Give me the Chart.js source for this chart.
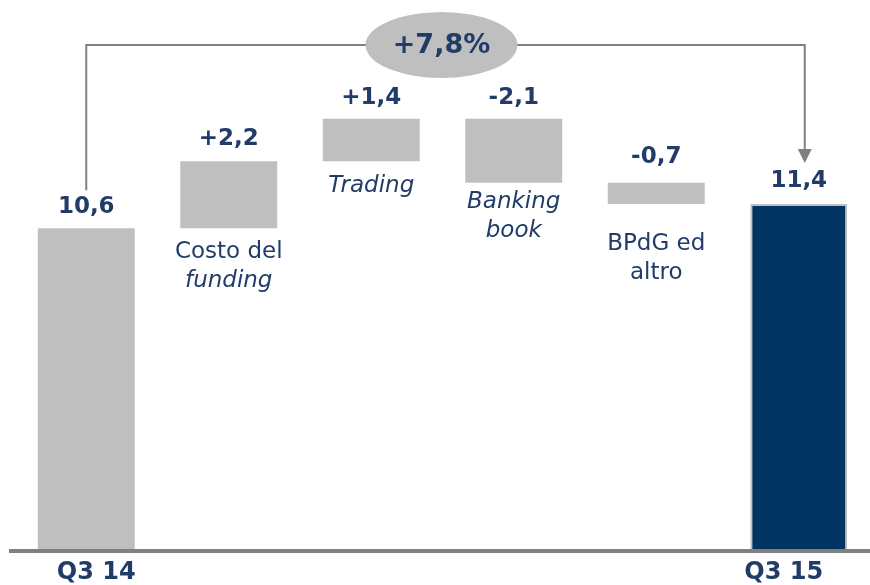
<!DOCTYPE html>
<html>
<head>
<meta charset="utf-8">
<script src="https://cdn.jsdelivr.net/npm/chart.js@4"></script>
<style>
  body { margin: 0; background: #fff; }
  #wrap { width: 870px; height: 585px; }
</style>
</head>
<body>
<div id="wrap"><canvas id="chart" width="870" height="585"></canvas></div>
<script>
// Data
const categories = ['Q3 14', 'Costo del funding', 'Trading', 'Banking book', 'BPdG ed altro', 'Q3 15'];
const labelLines = [[], ['Costo del', 'funding'], ['Trading'], ['Banking', 'book'], ['BPdG ed', 'altro'], []];
const startValue = 10.6;
const deltas = [2.2, 1.4, -2.1, -0.7];
const endValue = 11.4;
const valueLabels = ['10,6', '+2,2', '+1,4', '-2,1', '-0,7', '11,4'];
const growthLabel = '+7,8%';

// build floating bars for the waterfall
const bars = [[0, startValue]];
let running = startValue;
deltas.forEach(d => {
  const next = running + d;
  bars.push([Math.min(running, next), Math.max(running, next)]);
  running = next;
});
bars.push([0, endValue]);

const textColor = '#213c68';
const grey = '#bfbfbf';
const navy = '#003462';
const italicWords = ['funding', 'Trading', 'Banking', 'book'];

const overlay = {
  id: 'overlay',
  afterDatasetsDraw(chart) {
    const ctx = chart.ctx;
    const x = chart.scales.x;
    const y = chart.scales.y;
    ctx.save();

    // baseline
    ctx.strokeStyle = '#808080';
    ctx.lineWidth = 4;
    ctx.beginPath();
    ctx.moveTo(9, y.getPixelForValue(0));
    ctx.lineTo(870, y.getPixelForValue(0));
    ctx.stroke();

    ctx.textAlign = 'center';
    ctx.textBaseline = 'middle';
    ctx.fillStyle = textColor;

    // value labels above bars
    const valueGap = [21, 22, 21, 21, 26, 23];
    bars.forEach((b, i) => {
      ctx.font = 'bold 23px "DejaVu Sans"';
      ctx.fillText(valueLabels[i], x.getPixelForValue(i), y.getPixelForValue(b[1]) - valueGap[i]);
    });

    // category labels under the floating bars
    const labelGap = [0, 24, 25, 19, 40, 0];
    labelLines.forEach((lines, i) => {
      lines.forEach((line, j) => {
        const italic = italicWords.includes(line) ? 'italic ' : '';
        ctx.font = italic + '23px "DejaVu Sans"';
        ctx.fillText(line, x.getPixelForValue(i), y.getPixelForValue(bars[i][0]) + labelGap[i] + j * 29);
      });
    });

    // period labels under the axis
    ctx.font = 'bold 24px "DejaVu Sans"';
    ctx.fillText(categories[0], x.getPixelForValue(0) + 10, 573);
    ctx.fillText(categories[5], x.getPixelForValue(5) - 15, 573);

    // growth bracket
    const lx = x.getPixelForValue(0);
    const rx = x.getPixelForValue(5) + 6;
    const top = 45;
    const tipY = y.getPixelForValue(endValue) - 41;
    ctx.strokeStyle = '#808080';
    ctx.lineWidth = 2;
    ctx.beginPath();
    ctx.moveTo(lx, y.getPixelForValue(startValue) - 38);
    ctx.lineTo(lx, top);
    ctx.lineTo(rx, top);
    ctx.lineTo(rx, tipY - 12);
    ctx.stroke();
    ctx.fillStyle = '#808080';
    ctx.beginPath();
    ctx.moveTo(rx - 7, tipY - 14);
    ctx.lineTo(rx + 7, tipY - 14);
    ctx.lineTo(rx, tipY);
    ctx.closePath();
    ctx.fill();

    const cx = (lx + rx) / 2 - 4;
    ctx.fillStyle = grey;
    ctx.beginPath();
    ctx.ellipse(cx, top, 76, 33, 0, 0, Math.PI * 2);
    ctx.fill();
    ctx.fillStyle = textColor;
    ctx.font = 'bold 27px "DejaVu Sans"';
    ctx.fillText(growthLabel, cx, top + 1);

    ctx.restore();
  }
};

new Chart(document.getElementById('chart'), {
  type: 'bar',
  data: {
    labels: categories,
    datasets: [{
      data: bars,
      backgroundColor: bars.map((b, i) => i === bars.length - 1 ? navy : grey),
      borderColor: bars.map((b, i) => i === bars.length - 1 ? '#c0c0c0' : grey),
      borderWidth: bars.map((b, i) => i === bars.length - 1 ? 2 : 0),
      borderSkipped: false,
      barPercentage: 0.68,
      categoryPercentage: 1
    }]
  },
  options: {
    responsive: false,
    animation: false,
    layout: { padding: { left: 15, right: 0, top: 0, bottom: 34 } },
    plugins: { legend: { display: false }, tooltip: { enabled: false } },
    scales: {
      x: { display: false },
      y: { display: false, min: 0, max: 18.1 }
    }
  },
  plugins: [overlay]
});
</script>
</body>
</html>
